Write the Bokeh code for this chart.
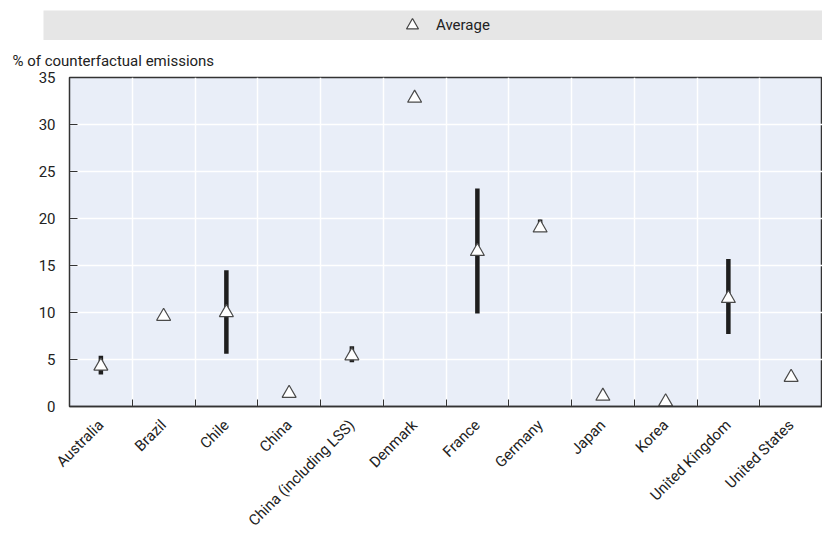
from bokeh.plotting import figure
from bokeh.layouts import column, row
from bokeh.models import ColumnDataSource, FixedTicker, Range1d, Legend, LegendItem, Spacer
from bokeh.embed import file_html
from bokeh.resources import INLINE

categories = ["Australia", "Brazil", "Chile", "China", "China (including LSS)", "Denmark",
              "France", "Germany", "Japan", "Korea", "United Kingdom", "United States"]
average = [4.3, 9.6, 10.0, 1.4, 5.4, 32.8, 16.5, 19.0, 1.1, 0.5, 11.5, 3.1]
range_low = [3.4, None, 5.6, None, 4.7, None, 9.9, 18.9, None, None, 7.7, None]
range_high = [5.4, None, 14.5, None, 6.4, None, 23.2, 19.9, None, None, 15.7, None]
y_ticks = [0, 5, 10, 15, 20, 25, 30, 35]

FONT = "Roboto"
TXT = "#222222"

xs = [i + 0.5 for i in range(len(categories))]
bar_x = [x for x, lo in zip(xs, range_low) if lo is not None]
bar_lo = [lo for lo in range_low if lo is not None]
bar_hi = [hi for hi in range_high if hi is not None]

# ---- legend band ----
leg = figure(width=779, height=40, output_backend="svg", toolbar_location=None,
             x_range=Range1d(0, 1), y_range=Range1d(0, 1),
             min_border_left=0, min_border_right=0, min_border_top=10, min_border_bottom=0)
leg.axis.visible = False
leg.grid.visible = False
leg.outline_line_color = None
leg.background_fill_color = "#e6e6e6"
dummy = leg.scatter(x=[-10], y=[-10], marker="triangle", size=12, fill_color="white",
                    line_color="#444444", line_width=1.2)
lg = Legend(items=[LegendItem(label="Average", renderers=[dummy])], location="left",
            orientation="horizontal", background_fill_alpha=0, border_line_color=None,
            label_text_font=FONT, label_text_font_size="15px", label_text_color=TXT,
            glyph_width=30, glyph_height=30, label_standoff=9, padding=0, margin=354)
leg.add_layout(lg, "center")

# ---- main chart ----
src = ColumnDataSource(dict(x=xs, avg=average))
bsrc = ColumnDataSource(dict(x=bar_x, lo=bar_lo, hi=bar_hi))

p = figure(width=822, height=501, output_backend="svg", toolbar_location=None,
           x_range=Range1d(0, len(categories)), y_range=Range1d(0, 35),
           min_border_left=69, min_border_right=0, min_border_top=37, min_border_bottom=135,
           title="% of counterfactual emissions")
p.title.text_font = FONT
p.title.text_font_size = "15px"
p.title.text_font_style = "normal"
p.title.text_color = TXT
p.title.align = "left"
p.title.offset = -57
p.title.standoff = 16

p.background_fill_color = "#e9eef8"
p.outline_line_color = "#333333"
p.outline_line_width = 1.5

p.segment(x0="x", y0="lo", x1="x", y1="hi", source=bsrc, line_color="#1e1e1e", line_width=4.5)
p.scatter(x="x", y="avg", source=src, marker="triangle", size=14, fill_color="white",
          line_color="#4a4a4a", line_width=1.2)

p.xaxis.ticker = FixedTicker(ticks=xs, minor_ticks=list(range(1, len(categories))))
p.xaxis.major_label_overrides = {x: c for x, c in zip(xs, categories)}
p.xaxis.major_label_orientation = 0.785
p.xaxis.major_tick_line_color = None
p.xaxis.minor_tick_in = 7
p.xaxis.minor_tick_out = 0
p.xaxis.minor_tick_line_color = "#333333"
p.xaxis.axis_line_color = "#333333"
p.xaxis.axis_line_width = 1.5
p.xaxis.major_label_standoff = 10

p.yaxis.ticker = FixedTicker(ticks=y_ticks)
p.yaxis.major_tick_in = 8
p.yaxis.major_tick_out = 0
p.yaxis.minor_tick_line_color = None
p.yaxis.major_tick_line_color = "#333333"
p.yaxis.axis_line_color = "#333333"
p.yaxis.major_label_standoff = 14

for ax in (p.xaxis, p.yaxis):
    ax.major_label_text_font = FONT
    ax.major_label_text_font_size = "15px"
    ax.major_label_text_color = TXT

p.xgrid.ticker = FixedTicker(ticks=list(range(1, len(categories))))
p.xgrid.grid_line_color = "white"
p.xgrid.grid_line_width = 1.5
p.ygrid.ticker = FixedTicker(ticks=y_ticks[1:-1])
p.ygrid.grid_line_color = "white"
p.ygrid.grid_line_width = 1.5

layout = column(row(Spacer(width=43, height=40), leg), p, spacing=0)
open("out.html", "w").write(file_html(layout, INLINE))
